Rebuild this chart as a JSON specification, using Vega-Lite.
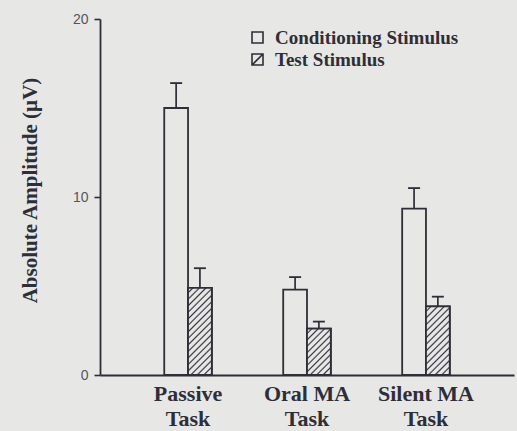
{
  "$schema": "https://vega.github.io/schema/vega-lite/v6.json",
  "width": 414,
  "height": 356,
  "autosize": {"type": "none"},
  "padding": {"left": 100, "top": 19, "right": 3, "bottom": 56},
  "background": "#e7e7e5",
  "config": {"view": {"stroke": null}},
  "data": {
    "values": [
      {"task": "Passive Task", "stim": "Conditioning Stimulus", "value": 15.0, "upper": 16.4},
      {"task": "Passive Task", "stim": "Test Stimulus", "value": 4.9, "upper": 6.0},
      {"task": "Oral MA Task", "stim": "Conditioning Stimulus", "value": 4.8, "upper": 5.5},
      {"task": "Oral MA Task", "stim": "Test Stimulus", "value": 2.6, "upper": 3.0},
      {"task": "Silent MA Task", "stim": "Conditioning Stimulus", "value": 9.35, "upper": 10.5},
      {"task": "Silent MA Task", "stim": "Test Stimulus", "value": 3.85, "upper": 4.4}
    ]
  },
  "encoding": {
    "x": {
      "field": "task", "type": "nominal", "sort": null,
      "scale": {"paddingInner": 0.6, "paddingOuter": 0.54},
      "axis": {
        "title": null, "labelAngle": 0, "ticks": false, "tickSize": 0,
        "labelExpr": "[replace(datum.value, ' Task', ''), 'Task']",
        "labelFont": "Liberation Serif", "labelFontWeight": "bold", "labelFontSize": 22,
        "labelColor": "#2e2e38", "labelLineHeight": 25, "labelBaseline": "alphabetic",
        "labelPadding": 25, "domainColor": "#2e2e38", "domainWidth": 1.8
      }
    },
    "xOffset": {"field": "stim", "type": "nominal", "sort": null, "scale": {"paddingInner": 0, "paddingOuter": 0}},
    "y": {
      "field": "value", "type": "quantitative",
      "scale": {"domain": [0, 20], "nice": false},
      "axis": {
        "values": [0, 10, 20], "grid": false, "tickSize": 6, "tickColor": "#2e2e38", "tickWidth": 1.6,
        "domainColor": "#2e2e38", "domainWidth": 1.8,
        "labelFont": "Liberation Sans", "labelFontSize": 14, "labelColor": "#555558", "labelPadding": 6,
        "title": "Absolute Amplitude (µV)", "titleFont": "Liberation Serif", "titleFontWeight": "bold",
        "titleFontSize": 21, "titleColor": "#2e2e38", "titleAngle": -90, "titleX": -64, "titleY": 171,
        "titleAlign": "center", "titleBaseline": "alphabetic"
      }
    }
  },
  "layer": [
    {
      "mark": {"type": "rule", "stroke": "#2e2e38", "strokeWidth": 1.7},
      "encoding": {"y2": {"field": "upper"}}
    },
    {
      "mark": {"type": "tick", "orient": "horizontal", "size": 12, "thickness": 1.8, "color": "#2e2e38", "opacity": 1},
      "encoding": {"y": {"field": "upper", "type": "quantitative"}}
    },
    {
      "mark": {"type": "bar", "fill": "#e7e7e5", "stroke": "#2e2e38", "strokeWidth": 1.8}
    },
    {
      "transform": [{"filter": "datum.task === 'Passive Task' && datum.stim === 'Test Stimulus'"}],
      "mark": {"type": "bar", "stroke": "#2e2e38", "strokeWidth": 1.8,
        "fill": {"gradient": "linear", "x1": 0, "y1": 0, "x2": 0.3222, "y2": 1.1844, "stops": [
          {"offset": 0, "color": "#e7e7e5"}, {"offset": 0.0300, "color": "#e7e7e5"}, {"offset": 0.0459, "color": "#33333d"},
          {"offset": 0.0588, "color": "#e7e7e5"}, {"offset": 0.0888, "color": "#e7e7e5"}, {"offset": 0.1047, "color": "#33333d"},
          {"offset": 0.1176, "color": "#e7e7e5"}, {"offset": 0.1476, "color": "#e7e7e5"}, {"offset": 0.1635, "color": "#33333d"},
          {"offset": 0.1765, "color": "#e7e7e5"}, {"offset": 0.2065, "color": "#e7e7e5"}, {"offset": 0.2224, "color": "#33333d"},
          {"offset": 0.2353, "color": "#e7e7e5"}, {"offset": 0.2653, "color": "#e7e7e5"}, {"offset": 0.2812, "color": "#33333d"},
          {"offset": 0.2941, "color": "#e7e7e5"}, {"offset": 0.3241, "color": "#e7e7e5"}, {"offset": 0.3400, "color": "#33333d"},
          {"offset": 0.3529, "color": "#e7e7e5"}, {"offset": 0.3829, "color": "#e7e7e5"}, {"offset": 0.3988, "color": "#33333d"},
          {"offset": 0.4118, "color": "#e7e7e5"}, {"offset": 0.4418, "color": "#e7e7e5"}, {"offset": 0.4577, "color": "#33333d"},
          {"offset": 0.4706, "color": "#e7e7e5"}, {"offset": 0.5006, "color": "#e7e7e5"}, {"offset": 0.5165, "color": "#33333d"},
          {"offset": 0.5294, "color": "#e7e7e5"}, {"offset": 0.5594, "color": "#e7e7e5"}, {"offset": 0.5753, "color": "#33333d"},
          {"offset": 0.5882, "color": "#e7e7e5"}, {"offset": 0.6182, "color": "#e7e7e5"}, {"offset": 0.6341, "color": "#33333d"},
          {"offset": 0.6471, "color": "#e7e7e5"}, {"offset": 0.6771, "color": "#e7e7e5"}, {"offset": 0.6930, "color": "#33333d"},
          {"offset": 0.7059, "color": "#e7e7e5"}, {"offset": 0.7359, "color": "#e7e7e5"}, {"offset": 0.7518, "color": "#33333d"},
          {"offset": 0.7647, "color": "#e7e7e5"}, {"offset": 0.7947, "color": "#e7e7e5"}, {"offset": 0.8106, "color": "#33333d"},
          {"offset": 0.8235, "color": "#e7e7e5"}, {"offset": 0.8535, "color": "#e7e7e5"}, {"offset": 0.8694, "color": "#33333d"},
          {"offset": 0.8824, "color": "#e7e7e5"}, {"offset": 0.9124, "color": "#e7e7e5"}, {"offset": 0.9283, "color": "#33333d"},
          {"offset": 0.9412, "color": "#e7e7e5"}, {"offset": 0.9712, "color": "#e7e7e5"}, {"offset": 0.9871, "color": "#33333d"},
          {"offset": 1, "color": "#e7e7e5"}
        ]}}
    },
    {
      "transform": [{"filter": "datum.task === 'Oral MA Task' && datum.stim === 'Test Stimulus'"}],
      "mark": {"type": "bar", "stroke": "#2e2e38", "strokeWidth": 1.8,
        "fill": {"gradient": "linear", "x1": 0, "y1": 0, "x2": 0.6144, "y2": 1.1978, "stops": [
          {"offset": 0, "color": "#e7e7e5"}, {"offset": 0.0460, "color": "#e7e7e5"}, {"offset": 0.0709, "color": "#33333d"},
          {"offset": 0.0909, "color": "#e7e7e5"}, {"offset": 0.1369, "color": "#e7e7e5"}, {"offset": 0.1618, "color": "#33333d"},
          {"offset": 0.1818, "color": "#e7e7e5"}, {"offset": 0.2278, "color": "#e7e7e5"}, {"offset": 0.2527, "color": "#33333d"},
          {"offset": 0.2727, "color": "#e7e7e5"}, {"offset": 0.3187, "color": "#e7e7e5"}, {"offset": 0.3436, "color": "#33333d"},
          {"offset": 0.3636, "color": "#e7e7e5"}, {"offset": 0.4096, "color": "#e7e7e5"}, {"offset": 0.4345, "color": "#33333d"},
          {"offset": 0.4545, "color": "#e7e7e5"}, {"offset": 0.5005, "color": "#e7e7e5"}, {"offset": 0.5254, "color": "#33333d"},
          {"offset": 0.5455, "color": "#e7e7e5"}, {"offset": 0.5915, "color": "#e7e7e5"}, {"offset": 0.6164, "color": "#33333d"},
          {"offset": 0.6364, "color": "#e7e7e5"}, {"offset": 0.6824, "color": "#e7e7e5"}, {"offset": 0.7073, "color": "#33333d"},
          {"offset": 0.7273, "color": "#e7e7e5"}, {"offset": 0.7733, "color": "#e7e7e5"}, {"offset": 0.7982, "color": "#33333d"},
          {"offset": 0.8182, "color": "#e7e7e5"}, {"offset": 0.8642, "color": "#e7e7e5"}, {"offset": 0.8891, "color": "#33333d"},
          {"offset": 0.9091, "color": "#e7e7e5"}, {"offset": 0.9551, "color": "#e7e7e5"}, {"offset": 0.9800, "color": "#33333d"},
          {"offset": 1, "color": "#e7e7e5"}
        ]}}
    },
    {
      "transform": [{"filter": "datum.task === 'Silent MA Task' && datum.stim === 'Test Stimulus'"}],
      "mark": {"type": "bar", "stroke": "#2e2e38", "strokeWidth": 1.8,
        "fill": {"gradient": "linear", "x1": 0, "y1": 0, "x2": 0.4165, "y2": 1.2022, "stops": [
          {"offset": 0, "color": "#e7e7e5"}, {"offset": 0.0363, "color": "#e7e7e5"}, {"offset": 0.0557, "color": "#33333d"},
          {"offset": 0.0714, "color": "#e7e7e5"}, {"offset": 0.1077, "color": "#e7e7e5"}, {"offset": 0.1271, "color": "#33333d"},
          {"offset": 0.1429, "color": "#e7e7e5"}, {"offset": 0.1792, "color": "#e7e7e5"}, {"offset": 0.1986, "color": "#33333d"},
          {"offset": 0.2143, "color": "#e7e7e5"}, {"offset": 0.2506, "color": "#e7e7e5"}, {"offset": 0.2700, "color": "#33333d"},
          {"offset": 0.2857, "color": "#e7e7e5"}, {"offset": 0.3220, "color": "#e7e7e5"}, {"offset": 0.3414, "color": "#33333d"},
          {"offset": 0.3571, "color": "#e7e7e5"}, {"offset": 0.3934, "color": "#e7e7e5"}, {"offset": 0.4128, "color": "#33333d"},
          {"offset": 0.4286, "color": "#e7e7e5"}, {"offset": 0.4649, "color": "#e7e7e5"}, {"offset": 0.4843, "color": "#33333d"},
          {"offset": 0.5000, "color": "#e7e7e5"}, {"offset": 0.5363, "color": "#e7e7e5"}, {"offset": 0.5557, "color": "#33333d"},
          {"offset": 0.5714, "color": "#e7e7e5"}, {"offset": 0.6077, "color": "#e7e7e5"}, {"offset": 0.6271, "color": "#33333d"},
          {"offset": 0.6429, "color": "#e7e7e5"}, {"offset": 0.6792, "color": "#e7e7e5"}, {"offset": 0.6986, "color": "#33333d"},
          {"offset": 0.7143, "color": "#e7e7e5"}, {"offset": 0.7506, "color": "#e7e7e5"}, {"offset": 0.7700, "color": "#33333d"},
          {"offset": 0.7857, "color": "#e7e7e5"}, {"offset": 0.8220, "color": "#e7e7e5"}, {"offset": 0.8414, "color": "#33333d"},
          {"offset": 0.8571, "color": "#e7e7e5"}, {"offset": 0.8934, "color": "#e7e7e5"}, {"offset": 0.9128, "color": "#33333d"},
          {"offset": 0.9286, "color": "#e7e7e5"}, {"offset": 0.9649, "color": "#e7e7e5"}, {"offset": 0.9843, "color": "#33333d"},
          {"offset": 1, "color": "#e7e7e5"}
        ]}}
    },
    {
      "mark": {"type": "point", "opacity": 0},
      "encoding": {
        "shape": {
          "field": "stim", "type": "nominal", "sort": null,
          "scale": {"range": ["M-1,-1H1V1H-1Z", "M-1,-1H1V1H-1Z M-1,1L1,-1"]},
          "legend": {
            "title": null, "orient": "none", "legendX": 148, "legendY": 9, "padding": 0,
            "symbolSize": 121, "symbolStrokeColor": "#2e2e38", "symbolFillColor": "#e7e7e5",
            "symbolStrokeWidth": 1.6, "symbolOpacity": 1, "rowPadding": 2, "labelOffset": 8,
            "labelFont": "Liberation Serif", "labelFontWeight": "bold", "labelFontSize": 19,
            "labelColor": "#2e2e38", "labelLimit": 400
          }
        }
      }
    }
  ]
}
